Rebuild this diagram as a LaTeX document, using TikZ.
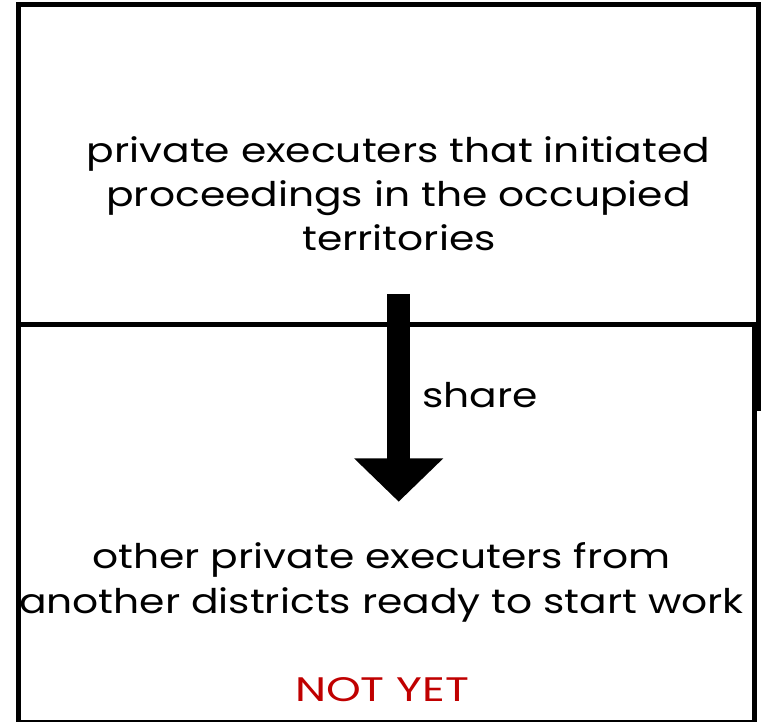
\documentclass[tikz,border=0pt]{standalone}
\usepackage{fontspec}
\setmainfont{Poppins}[FakeStretch=1.2]
\newfontfamily\capsfont{Poppins}[FakeStretch=1.3]
\usetikzlibrary{arrows.meta}
\definecolor{notyetred}{HTML}{C00000}
\begin{document}
\begin{tikzpicture}[x=1pt,y=1pt,
  box/.style={draw=black, line width=5pt, fill=white, rectangle, inner sep=0pt},
  txt/.style={anchor=base, inner sep=0pt, font=\fontsize{34}{44}\selectfont},
  blockarrow/.style={line width=22.7pt, line cap=butt,
    -{Triangle[width=86.7pt, length=43.4pt]}}]
\useasboundingbox (0,0) rectangle (762,721);
% upper panel (its lower part is hidden by the lower panel)
\node[box, minimum width=740pt, minimum height=403.5pt] (upper) at (388.5,514.75) {};
% lower panel, running off the bottom edge
\node[box, minimum width=736pt, minimum height=398pt] (lower) at (386.5,197.5) {};
% texts of the upper panel
\node[txt] (u1) at (398.5,558.3) {private executers that initiated};
\node[txt] (u2) at (398.5,514.3) {proceedings in the occupied};
\node[txt] (u3) at (399,470.3) {territories};
% texts of the lower panel
\node[txt] (l1) at (381.5,153) {other private executers from};
\node[txt] (l2) at (381.5,108) {another districts ready to start work};
\node[txt, font=\fontsize{34}{44}\capsfont, text=notyetred] (ny) at (382,19.3) {NOT YET};
% the share arrow
\coordinate (arrfrom) at (398.7,427);
\coordinate (arrto) at (398.7,219.3);
\draw[blockarrow] (arrfrom) -- (arrto);
\node[txt, anchor=base west] (share) at (422,313.7) {share};
\end{tikzpicture}
\end{document}
